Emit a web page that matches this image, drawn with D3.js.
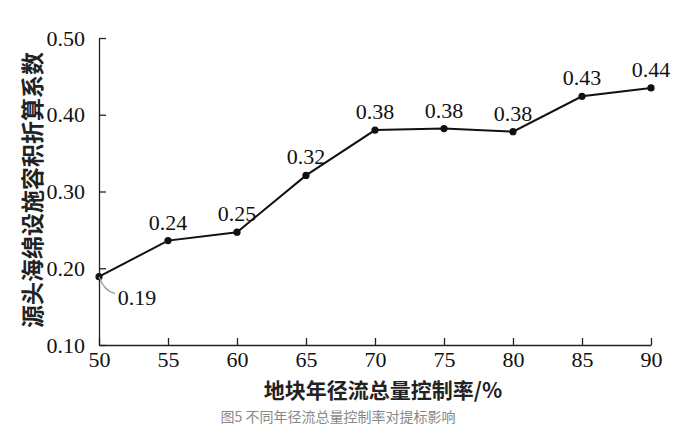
<!DOCTYPE html>
<html><head><meta charset="utf-8">
<script src="https://cdn.jsdelivr.net/npm/d3@7"></script>
<style>body{margin:0;background:#fff}svg{display:block}
.serif{font-family:"Liberation Serif","Times New Roman",serif}
.cjk{font-family:"Noto Sans CJK SC",sans-serif}
</style>
</head><body>
<svg id="c" width="689" height="441"></svg>
<script>
const categories = [50, 55, 60, 65, 70, 75, 80, 85, 90];
const values = [0.189, 0.236, 0.247, 0.321, 0.380, 0.382, 0.378, 0.424, 0.435];
const labels = ["0.19", "0.24", "0.25", "0.32", "0.38", "0.38", "0.38", "0.43", "0.44"];
const yTicks = [0.10, 0.20, 0.30, 0.40, 0.50];
const yTitle = "源头海绵设施容积折算系数";
const xTitle = "地块年径流总量控制率/%";
const caption = "图5  不同年径流总量控制率对提标影响";

const svg = d3.select("#c");
const x = d3.scaleLinear().domain([50, 90]).range([99, 651]);
const y = d3.scaleLinear().domain([0.10, 0.50]).range([345, 38]);

const xa = svg.append("g").attr("transform", "translate(0,345)")
  .call(d3.axisBottom(x).tickValues(categories).tickSize(-7).tickPadding(9).tickSizeOuter(0));
const ya = svg.append("g").attr("transform", "translate(99,0)")
  .call(d3.axisLeft(y).tickValues(yTicks).tickSize(-7).tickPadding(14).tickSizeOuter(0).tickFormat(d3.format(".2f")));
[xa, ya].forEach(a => {
  a.attr("font-family", null).attr("font-size", null);
  a.selectAll("path,line").attr("stroke", "#222").attr("stroke-width", 1.3);
  a.selectAll("text").attr("class", "serif").style("font-size", "22px").attr("fill", "#111");
});
xa.selectAll("text").attr("dy", "0.6em");
ya.selectAll("text").attr("dy", "0.32em");

const line = d3.line().x((d, i) => x(categories[i])).y(d => y(d));
svg.append("path").datum(values).attr("d", line)
  .attr("fill", "none").attr("stroke", "#111").attr("stroke-width", 2);
svg.selectAll("circle.pt").data(values).join("circle")
  .attr("cx", (d, i) => x(categories[i])).attr("cy", d => y(d)).attr("r", 3.6).attr("fill", "#111");

// leader for first label
svg.append("path")
  .attr("d", `M${x(50)},${y(values[0])} Q${x(50)+5},${y(values[0])+14} ${x(50)+16},${y(values[0])+17}`)
  .attr("fill", "none").attr("stroke", "#999").attr("stroke-width", 1.3);

svg.selectAll("text.lab").data(values).join("text")
  .attr("class", "serif")
  .attr("x", (d, i) => i === 0 ? x(categories[i]) + 38 : x(categories[i]))
  .attr("y", (d, i) => i === 0 ? y(d) + 28 : y(d) - 11)
  .attr("text-anchor", "middle")
  .style("font-size", "22px").attr("fill", "#111")
  .text((d, i) => labels[i]);

// y title rotated
svg.append("text").attr("class", "cjk")
  .attr("transform", "translate(41,190) rotate(-90)")
  .attr("text-anchor", "middle")
  .style("font-weight", "bold").style("font-size", "23px").attr("fill", "#222")
  .text(yTitle);

svg.append("text").attr("class", "cjk").attr("x", 383).attr("y", 398).attr("text-anchor", "middle")
  .style("font-weight", "bold").style("font-size", "21px").attr("fill", "#222").text(xTitle);

svg.append("text").attr("class", "cjk").attr("x", 338).attr("y", 422).attr("text-anchor", "middle")
  .style("font-size", "14px").attr("fill", "#888").text(caption);
</script>
</body></html>
